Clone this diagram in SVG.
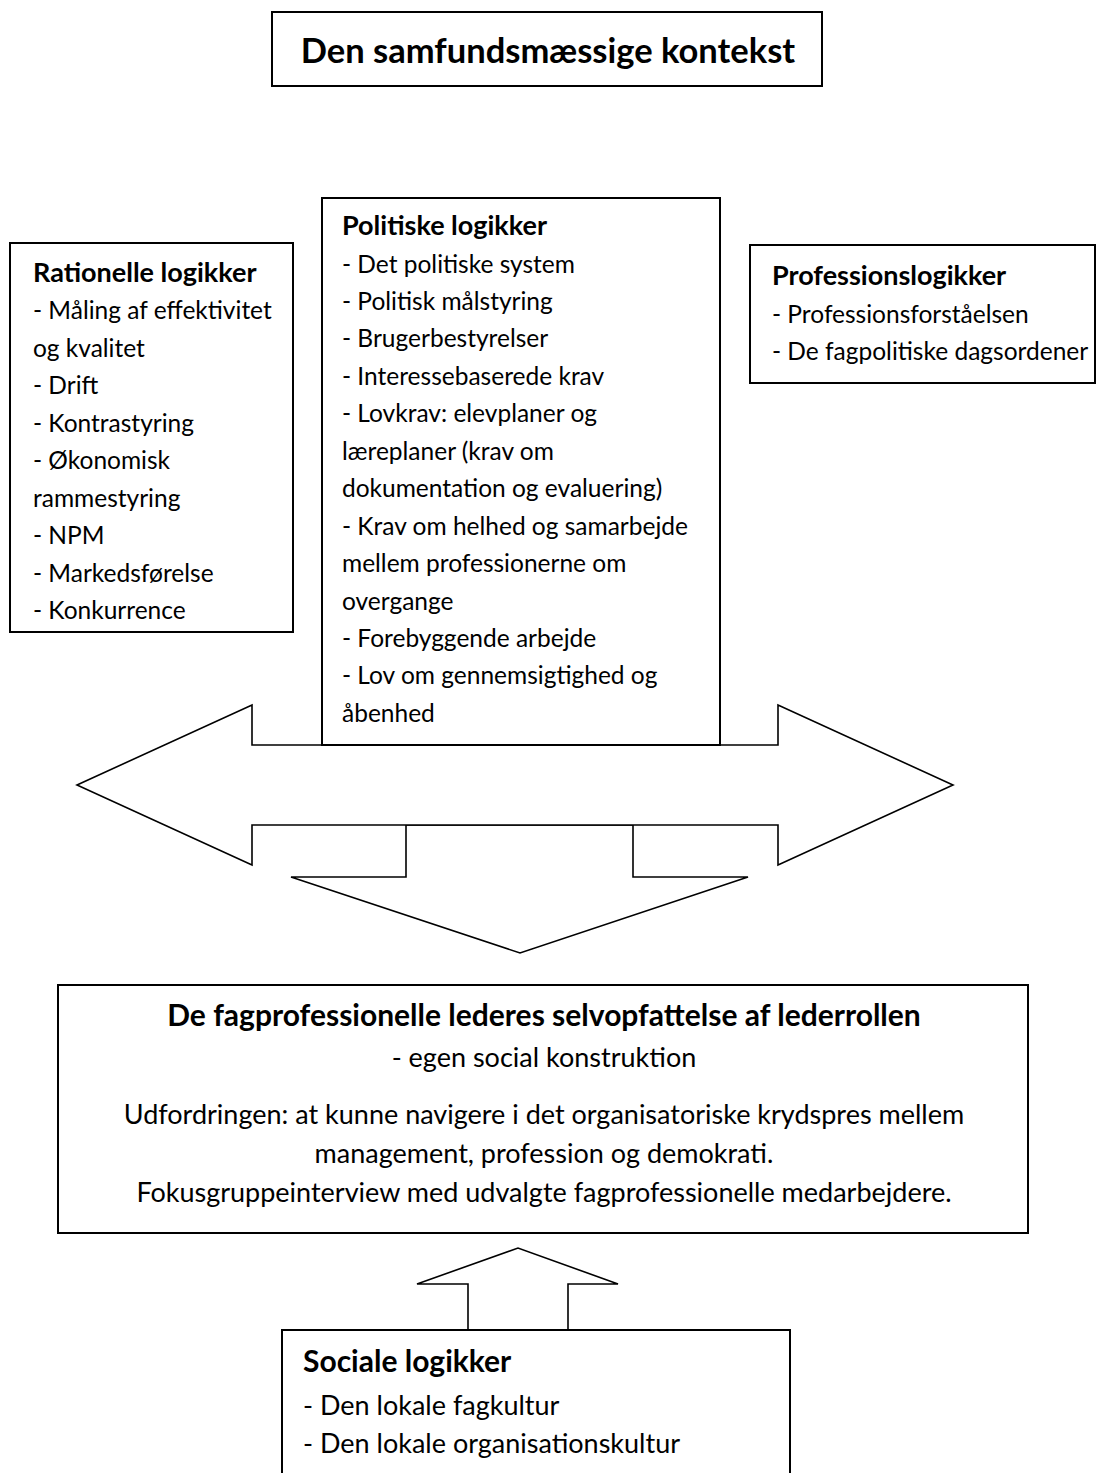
<svg xmlns="http://www.w3.org/2000/svg" width="1096" height="1473" viewBox="0 0 1096 1473">
<style>
.box{fill:#fff;stroke:#000;stroke-width:2}
.arrow{fill:#fff;stroke:#000;stroke-width:1.6;stroke-linejoin:miter}
text{font-family:Lato,'Open Sans',sans-serif;fill:#000}
.t{font-size:24.5px}
.h{font-size:27px;font-weight:bold}
.tl{font-size:27px}
.hl{font-size:30px;font-weight:bold}
.title{font-size:34.5px;font-weight:bold}
.c{text-anchor:middle}
</style>
<rect width="1096" height="1473" fill="#fff"/>
<g id="connectors">
  <polygon class="arrow" points="406,825 633,825 633,877 748,877 520,953 291,877 406,877"/>
  <polygon class="arrow" points="77,785 252,705 252,745 778,745 778,705 953,785 778,865 778,825 252,825 252,865"/>
  <polygon class="arrow" points="468,1330 468,1284 417,1284 518,1248 618,1284 568,1284 568,1330"/>
</g>
<g id="title">
  <rect class="box" x="272" y="12" width="550" height="74"/>
  <text class="title c" x="548" y="63">Den samfundsmæssige kontekst</text>
</g>
<g id="rationelle">
  <rect class="box" x="10" y="243" width="283" height="389"/>
  <text class="h" x="33" y="282">Rationelle logikker</text>
  <text class="t" x="33" y="319">- Måling af effektivitet</text>
  <text class="t" x="33" y="356.5">og kvalitet</text>
  <text class="t" x="33" y="394">- Drift</text>
  <text class="t" x="33" y="431.5">- Kontrastyring</text>
  <text class="t" x="33" y="469">- Økonomisk</text>
  <text class="t" x="33" y="506.5">rammestyring</text>
  <text class="t" x="33" y="544">- NPM</text>
  <text class="t" x="33" y="581.5">- Markedsførelse</text>
  <text class="t" x="33" y="619">- Konkurrence</text>
</g>
<g id="politiske">
  <rect class="box" x="322" y="198" width="398" height="547"/>
  <text class="h" x="342" y="235">Politiske logikker</text>
  <text class="t" x="342" y="272.5">- Det politiske system</text>
  <text class="t" x="342" y="310">- Politisk målstyring</text>
  <text class="t" x="342" y="347.4">- Brugerbestyrelser</text>
  <text class="t" x="342" y="384.8">- Interessebaserede krav</text>
  <text class="t" x="342" y="422.3">- Lovkrav: elevplaner og</text>
  <text class="t" x="342" y="459.7">læreplaner (krav om</text>
  <text class="t" x="342" y="497.2">dokumentation og evaluering)</text>
  <text class="t" x="342" y="534.6">- Krav om helhed og samarbejde</text>
  <text class="t" x="342" y="572.1">mellem professionerne om</text>
  <text class="t" x="342" y="609.5">overgange</text>
  <text class="t" x="342" y="647">- Forebyggende arbejde</text>
  <text class="t" x="342" y="684.4">- Lov om gennemsigtighed og</text>
  <text class="t" x="342" y="721.9">åbenhed</text>
</g>
<g id="profession">
  <rect class="box" x="750" y="245" width="345" height="138"/>
  <text class="h" x="772" y="285">Professionslogikker</text>
  <text class="t" x="772" y="323">- Professionsforståelsen</text>
  <text class="t" x="772" y="360">- De fagpolitiske dagsordener</text>
</g>
<g id="selvopfattelse">
  <rect class="box" x="58" y="985" width="970" height="248"/>
  <text class="hl c" x="544" y="1026">De fagprofessionelle lederes selvopfattelse af lederrollen</text>
  <text class="tl c" x="544" y="1067">- egen social konstruktion</text>
  <text class="tl c" x="544" y="1124">Udfordringen: at kunne navigere i det organisatoriske krydspres mellem</text>
  <text class="tl c" x="544" y="1163">management, profession og demokrati.</text>
  <text class="tl c" x="544" y="1202">Fokusgruppeinterview med udvalgte fagprofessionelle medarbejdere.</text>
</g>
<g id="sociale">
  <rect class="box" x="282" y="1330" width="508" height="160"/>
  <text class="hl" x="303" y="1372">Sociale logikker</text>
  <text class="tl" x="303" y="1415">- Den lokale fagkultur</text>
  <text class="tl" x="303" y="1453">- Den lokale organisationskultur</text>
</g>
</svg>
